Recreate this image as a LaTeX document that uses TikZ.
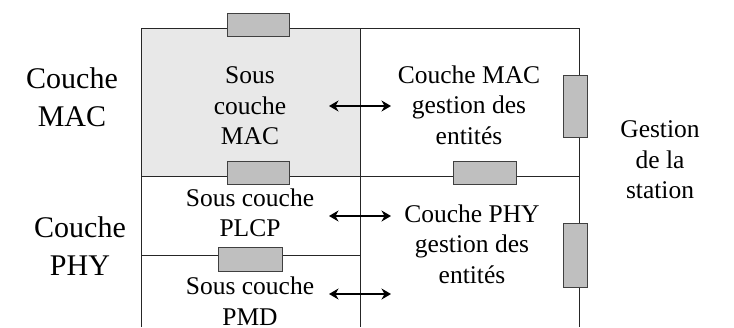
\documentclass[tikz,border=0pt]{standalone}
\usepackage{fontspec}
\setmainfont{Liberation Serif}
\usetikzlibrary{arrows.meta}
\begin{document}
\begin{tikzpicture}[x=1pt,y=-1pt,
  frame/.style={line width=1pt, draw=black!85},
  port/.style={draw=black!75, fill=black!25, line width=0.9pt},
  lbl/.style={align=center, inner sep=0pt, font=\fontsize{25.5}{30.5}\selectfont},
  big/.style={align=center, inner sep=0pt, font=\fontsize{30}{38}\selectfont},
  tip/.style={Stealth[length=9.5pt,width=11pt,inset=3pt]},
  link/.style={{Stealth[length=9.5pt,width=11pt,inset=3pt]}-{Stealth[length=9.5pt,width=11pt,inset=3pt]}, line width=1.3pt}]
\useasboundingbox (0,0) rectangle (734,327);

% shaded MAC sublayer
\fill[black!9] (141,28) rectangle (360,176);

% layer grid
\draw[frame] (141,327) -- (141,28) -- (579,28) -- (579,327);
\draw[frame] (360,28) -- (360,327);
\draw[frame] (141,176) -- (579,176);
\draw[frame] (141,255) -- (360,255);

% service access points
\draw[port] (227,13) rectangle (289,36);
\draw[port] (227,161) rectangle (289,184);
\draw[port] (453,161) rectangle (516,184);
\draw[port] (218,247) rectangle (282,271);
\draw[port] (563,75) rectangle (587,137);
\draw[port] (563,223) rectangle (587,287);

% layer names
\node[big] (macname) at (72,97) {Couche\\MAC};
\node[big] (phyname) at (80,246) {Couche\\PHY};

% sublayers
\node[lbl] (mac) at (250,106) {Sous\\couche\\MAC};
\node[lbl] (plcp) at (250,213) {Sous couche\\PLCP};
\node[lbl] (pmd) at (250,301) {Sous couche\\PMD};

% management entities
\node[lbl] (mlme) at (469,105) {Couche MAC\\gestion des\\entités};
\node[lbl] (plme) at (472,244) {Couche PHY\\gestion des\\entités};
\node[lbl] (sme) at (660,160) {Gestion\\de la\\station};

% interfaces between sublayers and their management entities
\coordinate (a1) at (329,106);
\coordinate (b1) at (391,106);
\coordinate (a2) at (329,216);
\coordinate (b2) at (391,216);
\coordinate (a3) at (329,294);
\coordinate (b3) at (391,294);
\draw[link] (a1) -- (b1);
\draw[link] (a2) -- (b2);
\draw[link] (a3) -- (b3);
\end{tikzpicture}
\end{document}
